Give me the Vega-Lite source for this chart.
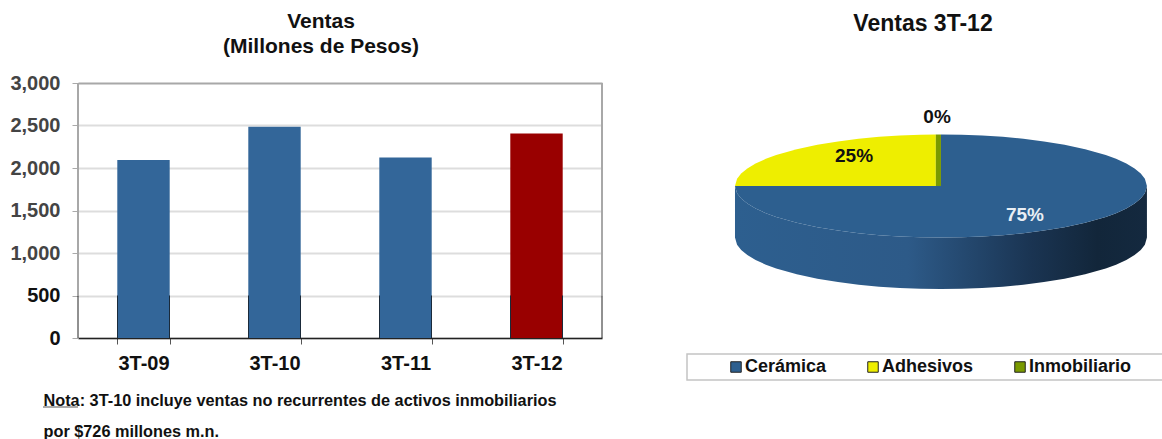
{
"$schema":"https://vega.github.io/schema/vega-lite/v6.json",
"background":"white",
"padding":{"left":9,"top":11,"right":0,"bottom":0},
"spacing":83,
"resolve":{"scale":{"color":"independent"},"legend":{"color":"independent"}},
"config":{"font":"Liberation Sans","view":{"stroke":null}},
"datasets":{
"ventas":[{"periodo":"3T-09","ventas":2095},{"periodo":"3T-10","ventas":2485},{"periodo":"3T-11","ventas":2125},{"periodo":"3T-12","ventas":2405}],
"lado":[
{"x":-1,"abajo":0,"fondo":-1},
{"x":-0.99,"abajo":-0.141,"fondo":-1.141},
{"x":-0.97,"abajo":-0.243,"fondo":-1.243},
{"x":-0.94,"abajo":-0.341,"fondo":-1.341},
{"x":-0.9,"abajo":-0.436,"fondo":-1.436},
{"x":-0.85,"abajo":-0.527,"fondo":-1.527},
{"x":-0.8,"abajo":-0.6,"fondo":-1.6},
{"x":-0.7,"abajo":-0.714,"fondo":-1.714},
{"x":-0.6,"abajo":-0.8,"fondo":-1.8},
{"x":-0.5,"abajo":-0.866,"fondo":-1.866},
{"x":-0.4,"abajo":-0.917,"fondo":-1.917},
{"x":-0.3,"abajo":-0.954,"fondo":-1.954},
{"x":-0.2,"abajo":-0.98,"fondo":-1.98},
{"x":-0.1,"abajo":-0.995,"fondo":-1.995},
{"x":0,"abajo":-1,"fondo":-2},
{"x":0.1,"abajo":-0.995,"fondo":-1.995},
{"x":0.2,"abajo":-0.98,"fondo":-1.98},
{"x":0.3,"abajo":-0.954,"fondo":-1.954},
{"x":0.4,"abajo":-0.917,"fondo":-1.917},
{"x":0.5,"abajo":-0.866,"fondo":-1.866},
{"x":0.6,"abajo":-0.8,"fondo":-1.8},
{"x":0.7,"abajo":-0.714,"fondo":-1.714},
{"x":0.8,"abajo":-0.6,"fondo":-1.6},
{"x":0.85,"abajo":-0.527,"fondo":-1.527},
{"x":0.9,"abajo":-0.436,"fondo":-1.436},
{"x":0.94,"abajo":-0.341,"fondo":-1.341},
{"x":0.97,"abajo":-0.243,"fondo":-1.243},
{"x":0.99,"abajo":-0.141,"fondo":-1.141},
{"x":1,"abajo":0,"fondo":-1}
],
"caras":[
{"serie":"Cerámica","x":-1,"arriba":0,"abajo":0},
{"serie":"Cerámica","x":-0.99,"arriba":0,"abajo":-0.141},
{"serie":"Cerámica","x":-0.97,"arriba":0,"abajo":-0.243},
{"serie":"Cerámica","x":-0.94,"arriba":0,"abajo":-0.341},
{"serie":"Cerámica","x":-0.9,"arriba":0,"abajo":-0.436},
{"serie":"Cerámica","x":-0.85,"arriba":0,"abajo":-0.527},
{"serie":"Cerámica","x":-0.8,"arriba":0,"abajo":-0.6},
{"serie":"Cerámica","x":-0.7,"arriba":0,"abajo":-0.714},
{"serie":"Cerámica","x":-0.6,"arriba":0,"abajo":-0.8},
{"serie":"Cerámica","x":-0.5,"arriba":0,"abajo":-0.866},
{"serie":"Cerámica","x":-0.4,"arriba":0,"abajo":-0.917},
{"serie":"Cerámica","x":-0.3,"arriba":0,"abajo":-0.954},
{"serie":"Cerámica","x":-0.2,"arriba":0,"abajo":-0.98},
{"serie":"Cerámica","x":-0.1,"arriba":0,"abajo":-0.995},
{"serie":"Cerámica","x":-0.002,"arriba":0,"abajo":-1},
{"serie":"Cerámica","x":0,"arriba":1,"abajo":-1},
{"serie":"Cerámica","x":0.1,"arriba":0.995,"abajo":-0.995},
{"serie":"Cerámica","x":0.2,"arriba":0.98,"abajo":-0.98},
{"serie":"Cerámica","x":0.3,"arriba":0.954,"abajo":-0.954},
{"serie":"Cerámica","x":0.4,"arriba":0.917,"abajo":-0.917},
{"serie":"Cerámica","x":0.5,"arriba":0.866,"abajo":-0.866},
{"serie":"Cerámica","x":0.6,"arriba":0.8,"abajo":-0.8},
{"serie":"Cerámica","x":0.7,"arriba":0.714,"abajo":-0.714},
{"serie":"Cerámica","x":0.8,"arriba":0.6,"abajo":-0.6},
{"serie":"Cerámica","x":0.85,"arriba":0.527,"abajo":-0.527},
{"serie":"Cerámica","x":0.9,"arriba":0.436,"abajo":-0.436},
{"serie":"Cerámica","x":0.94,"arriba":0.341,"abajo":-0.341},
{"serie":"Cerámica","x":0.97,"arriba":0.243,"abajo":-0.243},
{"serie":"Cerámica","x":0.99,"arriba":0.141,"abajo":-0.141},
{"serie":"Cerámica","x":1,"arriba":0,"abajo":0},
{"serie":"Adhesivos","x":-1,"arriba":0,"abajo":0},
{"serie":"Adhesivos","x":-0.99,"arriba":0.141,"abajo":0},
{"serie":"Adhesivos","x":-0.97,"arriba":0.243,"abajo":0},
{"serie":"Adhesivos","x":-0.94,"arriba":0.341,"abajo":0},
{"serie":"Adhesivos","x":-0.9,"arriba":0.436,"abajo":0},
{"serie":"Adhesivos","x":-0.85,"arriba":0.527,"abajo":0},
{"serie":"Adhesivos","x":-0.8,"arriba":0.6,"abajo":0},
{"serie":"Adhesivos","x":-0.7,"arriba":0.714,"abajo":0},
{"serie":"Adhesivos","x":-0.6,"arriba":0.8,"abajo":0},
{"serie":"Adhesivos","x":-0.5,"arriba":0.866,"abajo":0},
{"serie":"Adhesivos","x":-0.4,"arriba":0.917,"abajo":0},
{"serie":"Adhesivos","x":-0.3,"arriba":0.954,"abajo":0},
{"serie":"Adhesivos","x":-0.2,"arriba":0.98,"abajo":0},
{"serie":"Adhesivos","x":-0.1,"arriba":0.995,"abajo":0},
{"serie":"Adhesivos","x":-0.025,"arriba":1,"abajo":0},
{"serie":"Inmobiliario","x":-0.025,"arriba":1,"abajo":0},
{"serie":"Inmobiliario","x":0,"arriba":1,"abajo":0}
],
"rebanadas":[{"serie":"Cerámica","etiqueta":"75%","px":0.408,"py":-0.563},{"serie":"Adhesivos","etiqueta":"25%","px":-0.422,"py":0.583},{"serie":"Inmobiliario","etiqueta":"0%","px":-0.019,"py":1.34}],
"marco":[{"x0":-1.233,"x1":1.078,"y0":-3.262,"y1":-3.767}]
},
"hconcat":[
{
"width":524,"height":255,
"title":{"text":["Ventas","(Millones de Pesos)"],"fontSize":21,"fontWeight":"bold","color":"#111111","lineHeight":25,"anchor":"middle","dx":-19,"offset":16},
"data":{"name":"ventas"},
"encoding":{
"x":{"field":"periodo","type":"nominal","sort":["3T-09","3T-10","3T-11","3T-12"],"scale":{"domain":["3T-09","3T-10","3T-11","3T-12"],"paddingInner":0.6,"paddingOuter":0.3},
"axis":{"title":["Nota: 3T-10 incluye ventas no recurrentes de activos inmobiliarios","por $726 millones m.n."],"titleFontSize":16.3,"titleFontWeight":"bold","titleColor":"#111111","titleLineHeight":31,"titleAlign":"left","titleAnchor":"start","titleX":-35,"titleY":70,"titleBaseline":"bottom","labelAngle":0,"labelFontSize":20,"labelFontWeight":"bold","labelColor":"#111111","labelPadding":9,"tickBand":"extent","tickColor":"#555555","tickSize":6,"domainColor":"#222222","domainWidth":1.5,"grid":false}},
"y":{"field":"ventas","type":"quantitative","scale":{"domain":[0,3000],"nice":false},
"axis":{"title":null,"values":[0,500,1000,1500,2000,2500,3000],"format":",.0f","labelFontSize":20,"labelFontWeight":"bold","labelColor":{"condition":{"test":"datum.value <= 500","value":"#111111"},"value":"#444444"},"labelPadding":12,"tickColor":"#aaaaaa","tickSize":6,"domain":false,"grid":true,"gridColor":{"condition":{"test":"datum.value == 3000","value":"#a8a8a8"},"value":"#dddddd"},"gridWidth":2}}
},
"layer":[
{"transform":[{"filter":"datum.periodo == '3T-09'"}],"mark":{"type":"rule","color":"#a8a8a8","strokeWidth":2,"xOffset":-65.5},"encoding":{"y":{"datum":3000},"y2":{"datum":500}}},
{"transform":[{"filter":"datum.periodo == '3T-12'"}],"mark":{"type":"rule","color":"#a8a8a8","strokeWidth":2,"xOffset":65.5},"encoding":{"y":{"datum":3000},"y2":{"datum":500}}},
{"transform":[{"filter":"datum.periodo == '3T-09'"}],"mark":{"type":"rule","color":"#222222","strokeWidth":1,"xOffset":-65.5},"encoding":{"y":{"datum":500},"y2":{"datum":0}}},
{"transform":[{"filter":"datum.periodo == '3T-12'"}],"mark":{"type":"rule","color":"#222222","strokeWidth":1,"xOffset":65.5},"encoding":{"y":{"datum":500},"y2":{"datum":0}}},
{"mark":{"type":"bar"},"encoding":{"color":{"field":"periodo","type":"nominal","legend":null,"scale":{"domain":["3T-09","3T-10","3T-11","3T-12"],"range":["#336699","#336699","#336699","#990000"]}}}},
{"mark":{"type":"rule","color":"#1a2a3a","strokeWidth":1,"xOffset":-26},"encoding":{"y":{"datum":500},"y2":{"datum":0}}},
{"mark":{"type":"rule","color":"#1a2a3a","strokeWidth":1,"xOffset":26},"encoding":{"y":{"datum":500},"y2":{"datum":0}}},
{"transform":[{"filter":"datum.periodo == '3T-09'"}],"mark":{"type":"tick","orient":"horizontal","size":35,"thickness":1.2,"color":"#111111","xOffset":-83},"encoding":{"y":{"datum":-812}}}
]
},
{
"width":476,"height":255,
"title":{"text":"Ventas 3T-12","fontSize":23,"fontWeight":"bold","color":"#111111","anchor":"middle","dx":-2,"offset":47},
"encoding":{
"x":{"type":"quantitative","scale":{"domain":[-1.233,1.078],"nice":false,"zero":false},"axis":null},
"y":{"type":"quantitative","scale":{"domain":[-2.951,2],"nice":false,"zero":false},"axis":null}
},
"layer":[
{"data":{"name":"marco"},"mark":{"type":"rect","fill":"white","stroke":"#c4c4c4","strokeWidth":1.5},"encoding":{"x":{"field":"x0","type":"quantitative"},"x2":{"field":"x1"},"y":{"field":"y0","type":"quantitative"},"y2":{"field":"y1"}}},
{"data":{"name":"lado"},"mark":{"type":"area","color":{"gradient":"linear","x1":0,"x2":1,"y1":0,"y2":0,"stops":[{"offset":0,"color":"#2d5f8f"},{"offset":0.42,"color":"#2d5a88"},{"offset":0.72,"color":"#1a3452"},{"offset":0.88,"color":"#12263a"},{"offset":1,"color":"#14293f"}]}},"encoding":{"x":{"field":"x","type":"quantitative"},"y":{"field":"abajo","type":"quantitative"},"y2":{"field":"fondo"}}},
{"data":{"name":"caras"},"mark":{"type":"area"},"encoding":{"x":{"field":"x","type":"quantitative"},"y":{"field":"arriba","type":"quantitative"},"y2":{"field":"abajo"},"color":{"field":"serie","type":"nominal","scale":{"domain":["Cerámica","Adhesivos","Inmobiliario"],"range":["#2d5f8f","#eeee00","#7a9a00"]},
"legend":{"title":null,"orient":"none","legendX":40,"legendY":275,"direction":"horizontal","columns":3,"columnPadding":37,"labelFontSize":18,"labelFontWeight":"bold","labelColor":"#111111","labelOffset":0,"symbolType":"square","symbolSize":110,"symbolStrokeColor":"#222222","symbolStrokeWidth":1,"padding":0}}}},
{"data":{"name":"rebanadas"},"transform":[{"filter":"datum.serie != 'Cerámica'"}],"mark":{"type":"text","fontSize":19,"fontWeight":"bold","baseline":"middle","color":"#111111"},"encoding":{"x":{"field":"px","type":"quantitative"},"y":{"field":"py","type":"quantitative"},"text":{"field":"etiqueta"}}},
{"data":{"name":"rebanadas"},"transform":[{"filter":"datum.serie == 'Cerámica'"}],"mark":{"type":"text","fontSize":19,"fontWeight":"bold","baseline":"middle","color":"#e8eef4"},"encoding":{"x":{"field":"px","type":"quantitative"},"y":{"field":"py","type":"quantitative"},"text":{"field":"etiqueta"}}}
]
}
]
}
